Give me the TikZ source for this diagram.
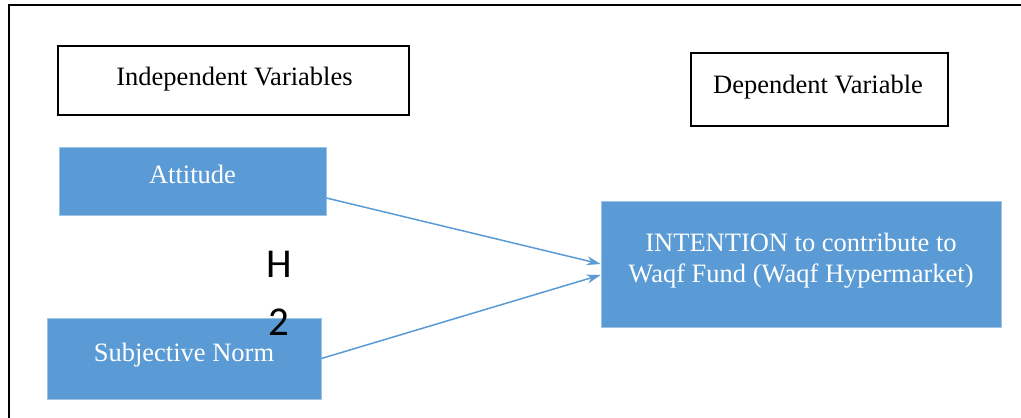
\documentclass[tikz,border=0pt]{standalone}
\usepackage{fontspec}
\setmainfont{Liberation Serif}
\newfontfamily\hfont{Carlito}
\usetikzlibrary{arrows.meta}
\definecolor{boxblue}{HTML}{5B9BD5}
\begin{document}
\begin{tikzpicture}[x=1pt,y=-1pt,
  whitebox/.style={draw=black,line width=2pt,fill=white,inner sep=0pt},
  bluebox/.style={draw=boxblue!60,line width=0.8pt,fill=boxblue,inner sep=0pt},
  blktext/.style={anchor=base,text=black,inner sep=0pt,font=\fontsize{26.5}{32}\selectfont},
  wtext/.style={anchor=base,text=white,inner sep=0pt,font=\fontsize{26.5}{32}\selectfont},
  htext/.style={anchor=base,text=black,inner sep=0pt,font=\hfont\fontsize{41}{48}\selectfont},
  arr/.style={draw=boxblue,line width=1.5pt,-{Stealth[length=14pt,width=9pt]}}]
\useasboundingbox (0,0) rectangle (1021,418);
\fill[white] (0,0) rectangle (1021,418);
% outer frame (top and left)
\coordinate (fl) at (9,418);
\coordinate (fc) at (9,5);
\coordinate (fr) at (1021,5);
\draw[line width=2pt,line cap=rect] (fl) -- (fc) -- (fr);
% header boxes
\node[whitebox,minimum width=351,minimum height=69] (ind) at (233.5,80.5) {};
\node[blktext] (indt) at (234.5,85) {Independent Variables};
\node[whitebox,minimum width=257,minimum height=73] (dep) at (819.5,89.5) {};
\node[blktext] (dept) at (818,93) {Dependent Variable};
% blue boxes
\node[bluebox,minimum width=267,minimum height=68] (att) at (192.5,181) {};
\node[wtext] (attt) at (192.5,183) {Attitude};
\node[bluebox,minimum width=274,minimum height=81] (sub) at (184,358.5) {};
\node[wtext] (subt) at (184,361) {Subjective Norm};
\node[bluebox,minimum width=400,minimum height=126] (int) at (801,264) {};
\node[wtext] (intt1) at (801,251) {INTENTION to contribute to};
\node[wtext] (intt2) at (801,282) {Waqf Fund (Waqf Hypermarket)};
% arrows
\draw[arr] ([yshift=-17pt]att.east) -- ([yshift=0pt]int.west);
\draw[arr] (sub.east) -- ([yshift=-11pt]int.west);
% H2 label
\node[htext] (h) at (279,277) {H};
\node[htext] (two) at (279,335) {2};
\end{tikzpicture}
\end{document}
